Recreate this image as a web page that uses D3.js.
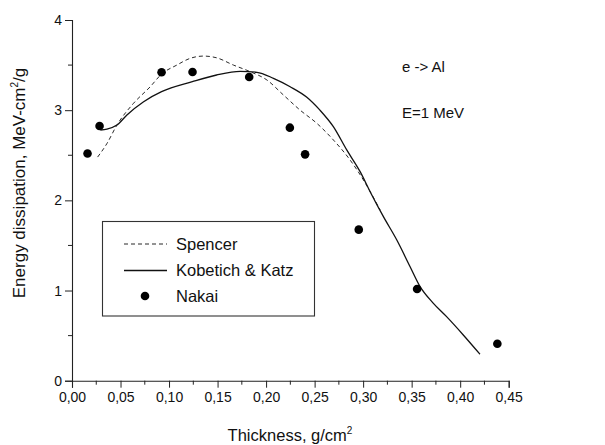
<!DOCTYPE html>
<html>
<head>
<meta charset="utf-8">
<script src="https://cdn.jsdelivr.net/npm/d3@7"></script>
<style>
  html, body { margin: 0; padding: 0; background: #fff; }
  svg { display: block; }
  text { font-family: "Liberation Sans", Arial, sans-serif; fill: #111; }
</style>
</head>
<body>
<svg id="chart" width="605" height="445"></svg>
<script>
// Energy dissipation of 1 MeV electrons in aluminium vs. depth
const xTicks = [0, 0.05, 0.10, 0.15, 0.20, 0.25, 0.30, 0.35, 0.40, 0.45];
const yTicks = [0, 1, 2, 3, 4];

// Spencer (theory, dashed)
const spencerX = [0.0264, 0.036, 0.0463, 0.0634, 0.0806, 0.0923, 0.108, 0.1218, 0.1355, 0.1493, 0.1664, 0.1836, 0.2008, 0.2179, 0.2351, 0.2523, 0.2694, 0.2866, 0.3003, 0.3175];
const spencerY = [2.48, 2.63, 2.835, 3.076, 3.26, 3.40, 3.50, 3.575, 3.60, 3.58, 3.50, 3.427, 3.335, 3.168, 3.0, 2.854, 2.669, 2.447, 2.226, 1.893];

// Kobetich & Katz (theory, solid)
const kkX = [0.0292, 0.036, 0.0463, 0.0566, 0.0738, 0.0923, 0.124, 0.149, 0.1733, 0.1905, 0.2076, 0.2248, 0.242, 0.2555, 0.2693, 0.2831, 0.2969, 0.3072, 0.3209, 0.3347, 0.3484, 0.3587, 0.3724, 0.386, 0.4032, 0.4204];
const kkY = [2.78, 2.79, 2.835, 2.947, 3.094, 3.205, 3.316, 3.39, 3.43, 3.42, 3.353, 3.26, 3.143, 3.0, 2.817, 2.559, 2.318, 2.096, 1.819, 1.56, 1.264, 1.043, 0.858, 0.71, 0.507, 0.293];

// Nakai (measurement, dots)
const nakaiX = [0.016, 0.0284, 0.0923, 0.1242, 0.1826, 0.2245, 0.2402, 0.2955, 0.3556, 0.4383];
const nakaiY = [2.52, 2.825, 3.42, 3.424, 3.368, 2.806, 2.51, 1.675, 1.017, 0.41];

const seriesNames = ["Spencer", "Kobetich & Katz", "Nakai"];

const svg = d3.select("#chart");
const m = { left: 72, right: 605 - 508.7, top: 20, bottom: 445 - 380.7 };
const W = 605, H = 445;

const x = d3.scaleLinear().domain([0, 0.45]).range([m.left, W - m.right]);
const y = d3.scaleLinear().domain([0, 4]).range([H - m.bottom, m.top]);

const comma = d => d3.format(".2f")(d).replace(".", ",");
const axisColor = "#222";

// minor ticks
const xMinor = d3.range(0.025, 0.45, 0.05);
const yMinor = d3.range(0.5, 4, 1);

const gx = svg.append("g").attr("transform", `translate(0,${y(0)})`);
gx.call(d3.axisBottom(x).tickValues(xTicks).tickFormat(comma).tickSizeOuter(0).tickSize(7).tickPadding(4));
gx.append("g").selectAll("line").data(xMinor).join("line")
  .attr("x1", d => x(d)).attr("x2", d => x(d)).attr("y1", 0).attr("y2", 4)
  .attr("stroke", axisColor);

const gy = svg.append("g").attr("transform", `translate(${x(0)},0)`);
gy.call(d3.axisLeft(y).tickValues(yTicks).tickFormat(d3.format("d")).tickSizeOuter(0).tickSize(7).tickPadding(3));
gy.append("g").selectAll("line").data(yMinor).join("line")
  .attr("y1", d => y(d)).attr("y2", d => y(d)).attr("x1", 0).attr("x2", -4)
  .attr("stroke", axisColor);

[gx, gy].forEach(g => {
  g.selectAll(".domain").attr("stroke", axisColor).attr("stroke-width", 1.1);
  g.selectAll(".tick line").attr("stroke", axisColor);
  g.selectAll(".tick text").attr("font-size", 14).attr("fill", "#111")
    .attr("font-family", "Liberation Sans, Arial, sans-serif");
});

// axis titles
const xt = svg.append("text").attr("x", 290).attr("y", 441).attr("text-anchor", "middle").attr("font-size", 16.5);
xt.append("tspan").text("Thickness, g/cm");
xt.append("tspan").text("2").attr("font-size", 10).attr("dy", -7);

const yt = svg.append("text")
  .attr("transform", `translate(25,183) rotate(-90)`)
  .attr("text-anchor", "middle").attr("font-size", 17);
yt.append("tspan").text("Energy dissipation, MeV-cm");
yt.append("tspan").text("2").attr("font-size", 10).attr("dy", -7);
yt.append("tspan").text("/g").attr("dy", 7);

// curves
const line = d3.line().x(d => x(d[0])).y(d => y(d[1])).curve(d3.curveMonotoneX);

svg.append("path")
  .datum(d3.zip(spencerX, spencerY))
  .attr("d", line).attr("fill", "none").attr("stroke", "#111")
  .attr("stroke-width", 0.9).attr("stroke-dasharray", "4,3");

svg.append("path")
  .datum(d3.zip(kkX, kkY))
  .attr("d", line).attr("fill", "none").attr("stroke", "#111")
  .attr("stroke-width", 1.3);

svg.append("g").selectAll("circle")
  .data(d3.zip(nakaiX, nakaiY)).join("circle")
  .attr("cx", d => x(d[0])).attr("cy", d => y(d[1])).attr("r", 4.3).attr("fill", "#000");

// annotations
svg.append("text").attr("x", 402).attr("y", 72).attr("font-size", 15).text("e -> Al");
svg.append("text").attr("x", 402).attr("y", 118).attr("font-size", 15).text("E=1 MeV");

// legend
const lg = svg.append("g");
lg.append("rect").attr("x", 102.5).attr("y", 221.5).attr("width", 212).attr("height", 94.5)
  .attr("fill", "#fff").attr("stroke", "#333").attr("stroke-width", 1.1);
const rows = [244, 270.5, 296];
lg.append("line").attr("x1", 124).attr("x2", 167).attr("y1", rows[0]).attr("y2", rows[0])
  .attr("stroke", "#111").attr("stroke-width", 0.9).attr("stroke-dasharray", "4,3");
lg.append("line").attr("x1", 124).attr("x2", 167).attr("y1", rows[1]).attr("y2", rows[1])
  .attr("stroke", "#111").attr("stroke-width", 1.3);
lg.append("circle").attr("cx", 145).attr("cy", rows[2]).attr("r", 4.3).attr("fill", "#000");
lg.selectAll("text.lbl").data(seriesNames).join("text").attr("class", "lbl")
  .attr("x", 176).attr("y", (d, i) => rows[i]).attr("dy", "0.36em")
  .attr("font-size", 16.5).text(d => d);
</script>
</body>
</html>
